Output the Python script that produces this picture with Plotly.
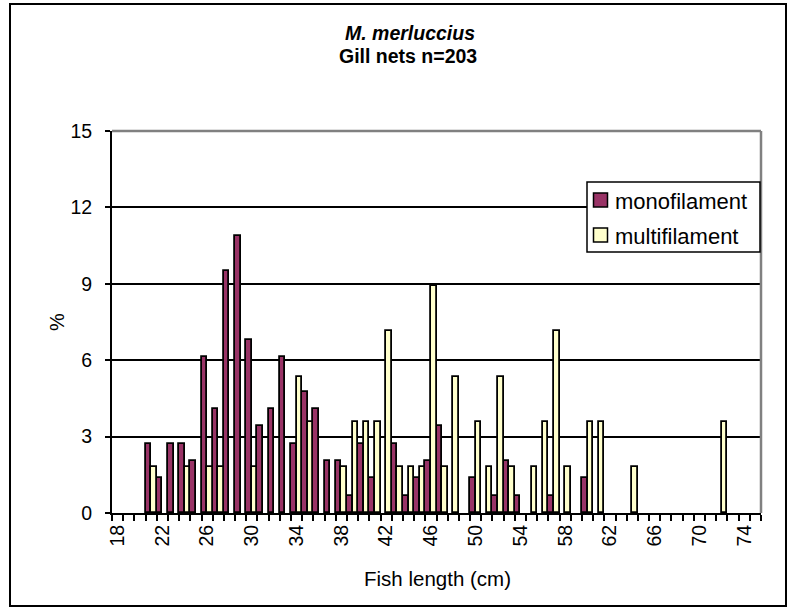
import plotly.graph_objects as go

# ---- data ----
lengths = list(range(18, 76))  # fish length classes (cm)

monofilament = [None, None, None, 2.72, 1.36, 2.72, 2.72, 2.04, 6.12, 4.08,
                9.52, 10.88, 6.80, 3.40, 4.08, 6.12, 2.72, 4.76, 4.08, 2.04,
                2.04, 0.68, 2.72, 1.36, None, 2.72, 0.68, 1.36, 2.04, 3.40,
                None, None, 1.36, None, 0.68, 2.04, 0.68, None, None, 0.68,
                None, None, 1.36, None, None, None, None, None, None, None,
                None, None, None, None, None, None, None, None]

multifilament = [None, None, None, 1.79, None, None, 1.79, None, 1.79, 1.79,
                 None, None, 1.79, None, None, None, 5.36, 3.57, None, None,
                 1.79, 3.57, 3.57, 3.57, 7.14, 1.79, 1.79, 1.79, 8.93, 1.79,
                 5.36, None, 3.57, 1.79, 5.36, 1.79, None, 1.79, 3.57, 7.14,
                 1.79, None, 3.57, 3.57, None, None, 1.79, None, None, None,
                 None, None, None, None, 3.57, None, None, None]

x_tick_values = [18, 22, 26, 30, 34, 38, 42, 46, 50, 54, 58, 62, 66, 70, 74]
x_tick_labels = ["18", "22", "26", "30", "34", "38", "42", "46", "50", "54",
                 "58", "62", "66", "70", "74"]
y_tick_values = [0, 3, 6, 9, 12, 15]

MONO_COLOR = "#993366"
MULTI_COLOR = "#FFFFCC"
FONT = "Arial, 'Liberation Sans', sans-serif"

# ---- figure geometry (pixels) ----
W, H = 798, 616
PL, PR, PT, PB = 112, 761, 131, 513  # plot area edges
pw, ph = PR - PL, PB - PT


def px(x):
    return (x - PL) / pw


def py(y):
    return (PB - y) / ph


fig = go.Figure()
fig.add_trace(go.Bar(x=lengths, y=monofilament, name="monofilament",
                     marker=dict(color=MONO_COLOR, line=dict(color="black", width=1.8)),
                     showlegend=False))
fig.add_trace(go.Bar(x=lengths, y=multifilament, name="multifilament",
                     marker=dict(color=MULTI_COLOR, line=dict(color="black", width=1.8)),
                     showlegend=False))

boundaries = [v - 0.5 for v in lengths] + [lengths[-1] + 0.5]

fig.update_layout(
    width=W, height=H,
    margin=dict(l=PL, r=W - PR, t=PT, b=H - PB, pad=0),
    paper_bgcolor="white", plot_bgcolor="white",
    barmode="group", bargap=0, bargroupgap=0,
    font=dict(family=FONT, color="black", size=19),
    showlegend=False,
    xaxis=dict(
        range=[lengths[0] - 0.5, lengths[-1] + 0.5],
        tickmode="array", tickvals=x_tick_values, ticktext=x_tick_labels,
        tickangle=-90, ticks="outside", ticklen=2, tickcolor="rgba(0,0,0,0)",
        minor=dict(tickmode="array", tickvals=boundaries, ticks="outside",
                   ticklen=6, tickwidth=1.5, tickcolor="black", showgrid=False),
        showline=True, linecolor="black", linewidth=2,
        showgrid=False, zeroline=False,
        tickfont=dict(size=19.5),
    ),
    yaxis=dict(
        range=[0, 15], tickmode="array", tickvals=y_tick_values,
        ticks="outside", ticklen=5, tickwidth=1.5, tickcolor="black",
        ticklabelstandoff=9,
        showline=True, linecolor="black", linewidth=2,
        showgrid=True, gridcolor="black", gridwidth=1.5,
        zeroline=False, tickfont=dict(size=19.5),
    ),
)

shapes = [
    # plot-area border (grey top and right)
    dict(type="line", xref="paper", yref="paper", x0=0, x1=1, y0=1, y1=1,
         line=dict(color="#808080", width=2.5), layer="above"),
    dict(type="line", xref="paper", yref="paper", x0=1, x1=1, y0=0, y1=1,
         line=dict(color="#808080", width=2.5), layer="above"),
    # outer chart frame
    dict(type="rect", xref="paper", yref="paper",
         x0=px(10), x1=px(786), y0=py(606), y1=py(4),
         line=dict(color="black", width=2), fillcolor="rgba(0,0,0,0)", layer="above"),
    # legend box
    dict(type="rect", xref="paper", yref="paper",
         x0=px(587), x1=px(760), y0=py(252), y1=py(182),
         line=dict(color="black", width=1.5), fillcolor="white", layer="above"),
    dict(type="rect", xref="paper", yref="paper",
         x0=px(593.5), x1=px(607.5), y0=py(207), y1=py(193),
         line=dict(color="black", width=1.5), fillcolor=MONO_COLOR, layer="above"),
    dict(type="rect", xref="paper", yref="paper",
         x0=px(593.5), x1=px(607.5), y0=py(242), y1=py(228),
         line=dict(color="black", width=1.5), fillcolor=MULTI_COLOR, layer="above"),
]
fig.update_layout(shapes=shapes)

annotations = [
    dict(text="<b><i>M. merluccius</i></b>", x=px(410), y=py(33),
         font=dict(size=19.5)),
    dict(text="<b>Gill nets n=203</b>", x=px(408), y=py(56),
         font=dict(size=19.5)),
    dict(text="Fish length (cm)", x=px(437), y=py(578), font=dict(size=20.5)),
    dict(text="%", x=px(57), y=py(322), textangle=-90, font=dict(size=20)),
    dict(text="monofilament", x=px(613), y=py(201), xanchor="left",
         font=dict(size=22)),
    dict(text="multifilament", x=px(613), y=py(236), xanchor="left",
         font=dict(size=22)),
]
for a in annotations:
    a.setdefault("xanchor", "center")
    a.update(xref="paper", yref="paper", yanchor="middle", showarrow=False)
fig.update_layout(annotations=annotations)

fig.write_html("out.html", config={"displayModeBar": False},
               post_script="document.body.style.margin='0';")
